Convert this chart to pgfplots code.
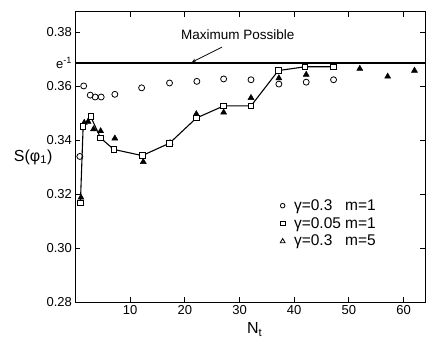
\documentclass[border=0pt]{standalone}
\usepackage{fontspec}
\setmainfont{Liberation Sans}
\usepackage{pgfplots}
\pgfplotsset{compat=1.18}
\begin{document}
\begin{tikzpicture}
\begin{axis}[
  scale only axis, width=350pt, height=290.6pt,
  xmin=0, xmax=64, ymin=0.28, ymax=0.3876,
  axis line style={line width=1.1pt},
  tick align=inside, major tick length=5pt,
  every tick/.style={black, line width=0.9pt},
  xtick={10,20,...,60},
  ytick={0.28,0.30,0.32,0.34,0.36,0.38},
  yticklabels={0.28,0.30,0.32,0.34,0.36,0.38},
  extra y ticks={0.3686}, extra y tick labels={e\textsuperscript{-1}},
  /pgf/number format/assume math mode=true,
  ticklabel style={font=\fontsize{13}{15}\selectfont},
  xlabel={N\textsubscript{t}},
  xlabel style={at={(axis description cs:0.512,0)}, anchor=north, yshift=-17pt, font=\fontsize{16}{18}\selectfont},
  ylabel={S(φ\textsubscript{1})},
  ylabel style={rotate=-90, at={(axis description cs:-0.121,0.5)}, anchor=center, font=\fontsize{16}{18}\selectfont},
  legend style={at={(0.576,0.368)}, anchor=north west, draw=none, fill=none, font=\fontsize{15.5}{18}\selectfont, row sep=1.5pt},
  legend cell align=left,
]
\addlegendimage{only marks, mark=o, mark size=2.3pt, black, thick}
\addlegendentry{\hspace*{7pt}\makebox[3.3em][l]{γ=0.3}m=1}
\addlegendimage{only marks, mark=square, mark size=2.3pt, black, thick}
\addlegendentry{\hspace*{7pt}\makebox[3.3em][l]{γ=0.05}m=1}
\addlegendimage{only marks, mark=triangle, mark size=2.8pt, black, thick}
\addlegendentry{\hspace*{7pt}\makebox[3.3em][l]{γ=0.3}m=5}

% Maximum possible line
\addplot[forget plot, black, line width=1.4pt] coordinates {(0,0.3686) (64,0.3686)};

% gamma=0.3 m=1 (circles)
\addplot[forget plot, only marks, mark=o, mark size=3pt, black, thick] coordinates {
(0.8,0.334) (1.5,0.3601) (2.7,0.3567) (3.6,0.356) (4.7,0.356) (7.2,0.357)
(12.1,0.3594) (17.2,0.3612) (22.2,0.3618) (27.1,0.3627) (32.1,0.3624)
(37.2,0.3608) (42.2,0.3615) (47.2,0.3624)};

% gamma=0.3 m=5 (filled triangles)
\addplot[forget plot, only marks, mark=triangle*, mark size=3.5pt, black] coordinates {
(1.0,0.3188) (1.6,0.3465) (2.3,0.3469) (3.3,0.3441) (4.6,0.3434) (7.2,0.3407)
(12.4,0.332) (17.3,0.339) (22.1,0.3497) (27.1,0.3503) (32.1,0.3557)
(37.2,0.3630) (42.2,0.3643) (52.0,0.3665) (57.1,0.3636) (62.0,0.3658)};

% gamma=0.05 m=1 (squares, connected)
\addplot[forget plot, black, line width=1.1pt, mark=square*, mark size=2.8pt,
  mark options={fill=white, line width=0.9pt}] coordinates {
(0.9,0.3168) (1.4,0.345) (2.8,0.3487) (4.6,0.3408) (7.0,0.3366) (12.2,0.3343)
(17.2,0.3389) (22.1,0.3482) (27.1,0.3527) (32.1,0.3527) (37.1,0.3658)
(42.0,0.3672) (47.2,0.3672)};

\node[font=\fontsize{13.5}{15}\selectfont] at (axis cs:29.7,0.3790) {Maximum Possible};
\draw[-stealth, line width=0.8pt] (axis cs:26.8,0.3745) -- (axis cs:21.3,0.3689);
\end{axis}
\pgfresetboundingbox
\path[use as bounding box] ([xshift=-75.5pt,yshift=-35.7pt]current axis.south west) rectangle ([xshift=0.6pt,yshift=11.7pt]current axis.north east);
\end{tikzpicture}
\end{document}
